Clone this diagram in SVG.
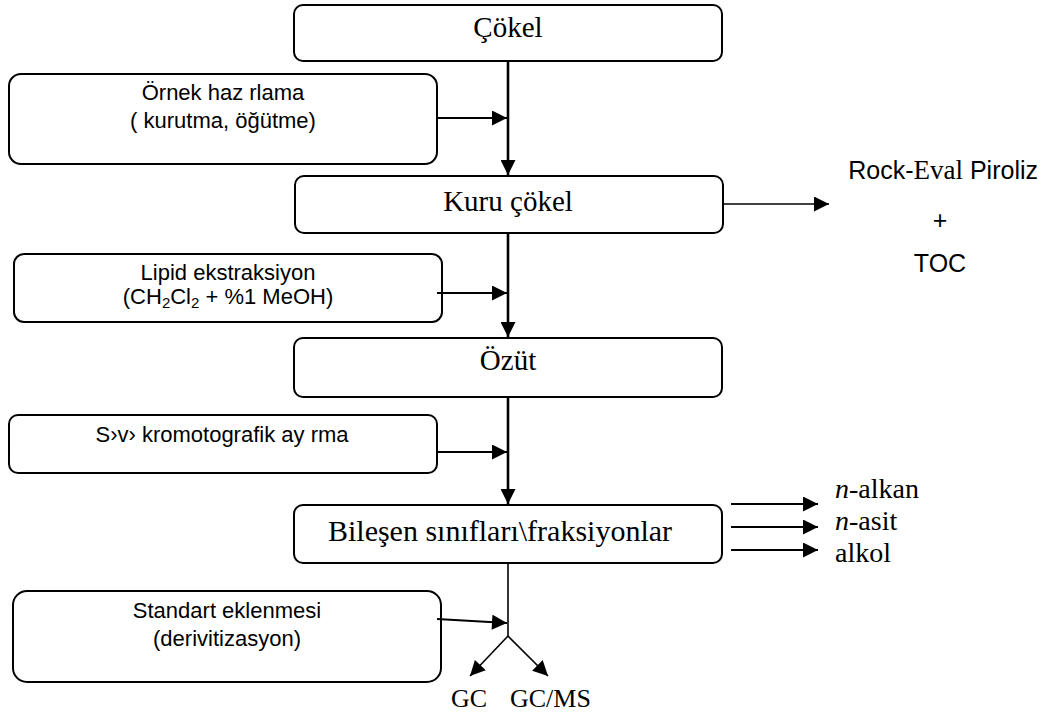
<svg xmlns="http://www.w3.org/2000/svg" width="1044" height="716" viewBox="0 0 1044 716">
<defs>
<style>
.box{fill:#fff;stroke:#000;stroke-width:2}
.serif{font-family:"Liberation Serif","Times New Roman",serif;fill:#000}
.sans{font-family:"Liberation Sans",Arial,sans-serif;fill:#000}
.main{font-size:29px}
.side{font-size:22px}
.thick{stroke:#000;stroke-width:2.6;fill:none}
.med{stroke:#000;stroke-width:2.2;fill:none}
.thin{stroke:#000;stroke-width:1.6;fill:none}
</style>
<marker id="ah" viewBox="0 0 10 10" refX="10" refY="5" markerUnits="userSpaceOnUse" markerWidth="16" markerHeight="15" orient="auto">
<path d="M0,0 L10,5 L0,10 Z" fill="#000"/>
</marker>
</defs>
<rect width="1044" height="716" fill="#fff"/>

<g id="cokel">
<rect class="box" x="294" y="5" width="428" height="56" rx="9"/>
<text class="serif main" x="508" y="37" text-anchor="middle">Çökel</text>
</g>
<g id="ornek">
<rect class="box" x="9" y="74" width="428" height="90" rx="12"/>
<text class="sans side" x="223" y="100" text-anchor="middle">Örnek haz rlama</text>
<text class="sans side" x="223" y="128" text-anchor="middle">( kurutma, öğütme)</text>
</g>
<g id="kuru">
<rect class="box" x="295" y="176" width="428" height="57" rx="9"/>
<text class="serif main" x="508" y="211" text-anchor="middle">Kuru çökel</text>
</g>
<g id="rockeval">
<text class="sans" font-size="25" x="1038" y="179" text-anchor="end">Rock-<tspan class="serif" font-size="27">Eval</tspan> Piroliz</text>
<text class="sans" font-size="25" x="940" y="229" text-anchor="middle">+</text>
<text class="sans" font-size="25" x="940" y="272" text-anchor="middle">TOC</text>
</g>
<g id="lipid">
<rect class="box" x="14" y="254" width="428" height="68" rx="10"/>
<text class="sans side" x="228" y="280" text-anchor="middle">Lipid ekstraksiyon</text>
<text class="sans side" x="228" y="304" text-anchor="middle">(CH<tspan font-size="15" dy="4">2</tspan><tspan dy="-4">Cl</tspan><tspan font-size="15" dy="4">2</tspan><tspan dy="-4"> + %1 MeOH)</tspan></text>
</g>
<g id="ozut">
<rect class="box" x="294" y="338" width="428" height="59" rx="9"/>
<text class="serif main" x="508" y="370" text-anchor="middle">Özüt</text>
</g>
<g id="sivi">
<rect class="box" x="9" y="415" width="428" height="58" rx="9"/>
<text class="sans side" x="222" y="442" text-anchor="middle">S›v› kromotografik ay rma</text>
</g>
<g id="bilesen">
<rect class="box" x="294" y="505" width="428" height="58" rx="9"/>
<text class="serif" font-size="30" x="500" y="541" text-anchor="middle">Bileşen sınıfları\fraksiyonlar</text>
</g>
<g id="fractions">
<text class="serif" font-size="28" x="835" y="498"><tspan font-style="italic">n</tspan>-alkan</text>
<text class="serif" font-size="28" x="835" y="530"><tspan font-style="italic">n</tspan>-asit</text>
<text class="serif" font-size="28" x="835" y="562">alkol</text>
</g>
<g id="standart">
<rect class="box" x="13" y="591" width="428" height="91" rx="14"/>
<text class="sans side" x="227" y="618" text-anchor="middle">Standart eklenmesi</text>
<text class="sans side" x="227" y="646" text-anchor="middle">(derivitizasyon)</text>
</g>
<g id="gc">
<text class="serif" font-size="26" x="451" y="707">GC</text>
<text class="serif" font-size="26" x="510" y="707">GC/MS</text>
</g>

<g id="connectors">
<line class="thick" x1="508" y1="61" x2="508" y2="175" marker-end="url(#ah)"/>
<line class="med" x1="437" y1="118" x2="507" y2="118" marker-end="url(#ah)"/>
<line class="thin" x1="723" y1="204" x2="829" y2="204" marker-end="url(#ah)"/>
<line class="thick" x1="508" y1="233" x2="508" y2="337" marker-end="url(#ah)"/>
<line class="med" x1="437" y1="293" x2="507" y2="293" marker-end="url(#ah)"/>
<line class="thick" x1="508" y1="397" x2="508" y2="504" marker-end="url(#ah)"/>
<line class="med" x1="437" y1="452" x2="507" y2="452" marker-end="url(#ah)"/>
<line class="med" x1="731" y1="504" x2="818" y2="504" marker-end="url(#ah)"/>
<line class="med" x1="731" y1="527" x2="818" y2="527" marker-end="url(#ah)"/>
<line class="med" x1="731" y1="550" x2="818" y2="550" marker-end="url(#ah)"/>
<line class="thin" x1="508" y1="563" x2="508" y2="636"/>
<line class="med" x1="437" y1="619" x2="507" y2="623" marker-end="url(#ah)"/>
<line class="thin" x1="508" y1="636" x2="470" y2="676" marker-end="url(#ah)"/>
<line class="thin" x1="508" y1="636" x2="548" y2="676" marker-end="url(#ah)"/>
</g>
</svg>
